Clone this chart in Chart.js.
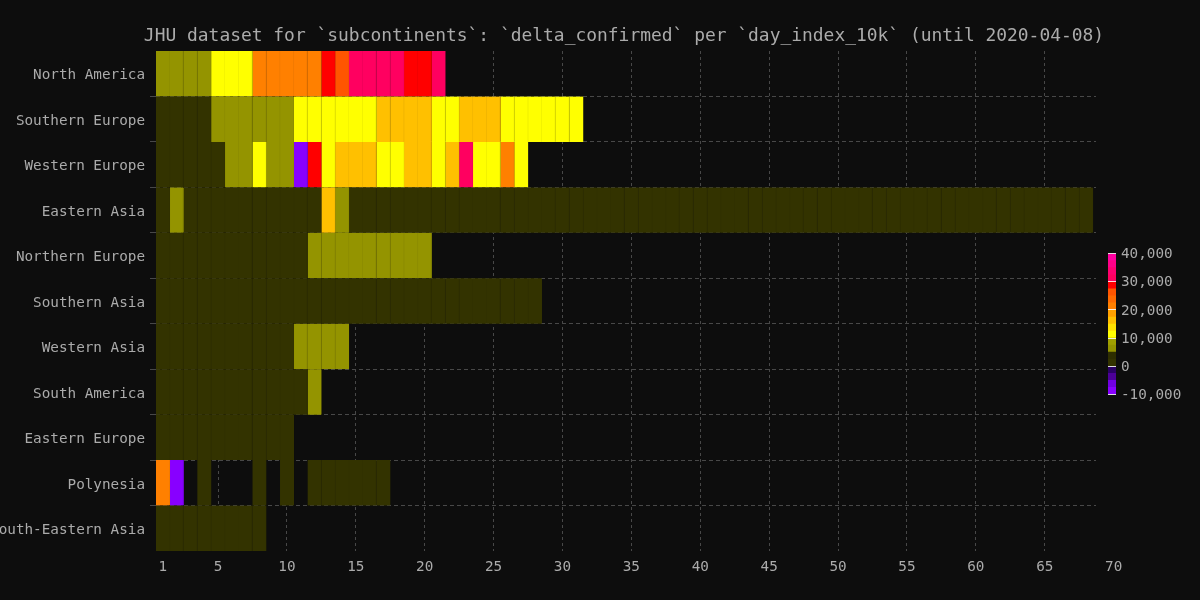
<!DOCTYPE html>
<html>
<head>
<meta charset="utf-8">
<title>JHU subcontinents</title>
<script src="https://cdn.jsdelivr.net/npm/chart.js@4"></script>
<style>
  html, body { margin: 0; padding: 0; background: #0d0d0d; overflow: hidden; }
  #wrap { position: relative; width: 1200px; height: 600px; overflow: hidden; }
  #heat { position: absolute; left: 0; top: 0; }
  #bar { position: absolute; left: 1100px; top: 240px; }
</style>
</head>
<body>
<div id="wrap">
  <!-- wider than the page so the title centres at x=624 like the reference -->
  <canvas id="heat" width="1248" height="600"></canvas>
  <canvas id="bar" width="100" height="168"></canvas>
</div>
<script>
const FONT = "'DejaVu Sans Mono', monospace";
const TEXT = "#ababab";
const GRID = "#484848";

const titleText = "JHU dataset for `subcontinents`: `delta_confirmed` per `day_index_10k` (until 2020-04-08)";
const categories = ["North America", "Southern Europe", "Western Europe", "Eastern Asia", "Northern Europe", "Southern Asia", "Western Asia", "South America", "Eastern Europe", "Polynesia", "South-Eastern Asia"];
const xTicks = [1, 5, 10, 15, 20, 25, 30, 35, 40, 45, 50, 55, 60, 65, 70];

// delta_confirmed per day (index 0 = day 1)
const northAmerica = [7000, 7000, 7000, 7000, 11000, 11000, 11000, 21000, 21000, 21000, 21000, 21000, 29000, 26000, 31000, 31000, 31000, 31000, 29000, 29000, 31000];
const southernEurope = [2000, 2000, 2000, 2000, 7000, 7000, 7000, 7000, 7000, 7000, 11000, 11000, 11000, 11000, 11000, 11000, 16000, 16000, 16000, 16000, 11000, 11000, 16000, 16000, 16000, 11000, 11000, 11000, 11000, 11000, 11000];
const westernEurope = [2000, 2000, 2000, 2000, 2000, 7000, 7000, 11000, 7000, 7000, -8000, 29000, 11000, 16000, 16000, 16000, 11000, 11000, 16000, 16000, 11000, 16000, 31000, 11000, 11000, 21000, 11000];
const easternAsia = [2000, 7000, 2000, 2000, 2000, 2000, 2000, 2000, 2000, 2000, 2000, 2000, 16000, 7000,
  2000, 2000, 2000, 2000, 2000, 2000, 2000, 2000, 2000, 2000, 2000, 2000, 2000, 2000, 2000, 2000, 2000, 2000, 2000, 2000, 2000, 2000, 2000, 2000, 2000, 2000, 2000,
  2000, 2000, 2000, 2000, 2000, 2000, 2000, 2000, 2000, 2000, 2000, 2000, 2000, 2000, 2000, 2000, 2000, 2000, 2000, 2000, 2000, 2000, 2000, 2000, 2000, 2000, 2000];
const northernEurope = [2000, 2000, 2000, 2000, 2000, 2000, 2000, 2000, 2000, 2000, 2000, 7000, 7000, 7000, 7000, 7000, 7000, 7000, 7000, 7000];
const southernAsia = [2000, 2000, 2000, 2000, 2000, 2000, 2000, 2000, 2000, 2000, 2000, 2000, 2000, 2000, 2000, 2000, 2000, 2000, 2000, 2000, 2000, 2000, 2000, 2000, 2000, 2000, 2000, 2000];
const westernAsia = [2000, 2000, 2000, 2000, 2000, 2000, 2000, 2000, 2000, 2000, 7000, 7000, 7000, 7000];
const southAmerica = [2000, 2000, 2000, 2000, 2000, 2000, 2000, 2000, 2000, 2000, 2000, 7000];
const easternEurope = [2000, 2000, 2000, 2000, 2000, 2000, 2000, 2000, 2000, 2000];
const polynesia = [21000, -9000, null, 2000, null, null, null, 2000, null, 2000, null, 2000, 2000, 2000, 2000, 2000, 2000];
const southEasternAsia = [2000, 2000, 2000, 2000, 2000, 2000, 2000, 2000];
const rows = [northAmerica, southernEurope, westernEurope, easternAsia, northernEurope, southernAsia, westernAsia, southAmerica, easternEurope, polynesia, southEasternAsia];

// colour scale: each level runs from its value up to the next one
const levels = [-10000, -7500, -5000, -2500, 0, 2500, 5000, 7500, 10000, 12500, 15000, 17500, 20000, 22500, 25000, 27500, 30000, 32500, 35000, 37500, 40000];
const levelColors = ["#8800ff", "#7000e0", "#4c0099", "#2a0066", "#333300", "#2e2e00", "#949400", "#a0a000", "#ffff00", "#ffe000", "#ffc000", "#ffa000", "#ff8000", "#ff6a00", "#ff5500", "#ff0000", "#ff0060", "#ff0070", "#ff0088", "#ff00a0"];
const barTicks = [-10000, 0, 10000, 20000, 30000, 40000];

function colorFor(v) {
  for (let i = levelColors.length - 1; i >= 0; i--) {
    if (v >= levels[i]) return levelColors[i];
  }
  return levelColors[0];
}

// cell seams are the cell colour a bit darker, barely visible on the darkest cells
function darker(hex) {
  const n = parseInt(hex.slice(1), 16);
  const f = hex === "#333300" ? 0.98 : 0.95;
  return `rgb(${Math.round((n >> 16) * f)},${Math.round(((n >> 8) & 255) * f)},${Math.round((n & 255) * f)})`;
}

const has = (r, d) => r[d] !== undefined && r[d] !== null;
const dayCount = Math.max(...rows.map((r) => r.length));
const heatSets = [];
for (let d = 0; d < dayCount; d++) {
  heatSets.push({
    label: "day " + (d + 1),
    data: rows.map((r) => (has(r, d) ? [d + 0.5, d + 1.5] : null)),
    backgroundColor: rows.map((r) => (has(r, d) ? colorFor(r[d]) : "transparent")),
    borderColor: rows.map((r) => (!has(r, d) ? "transparent" : has(r, d + 1) ? darker(colorFor(r[d])) : colorFor(r[d]))),
    borderWidth: { right: 1, left: 0, top: 0, bottom: 0 },
    borderSkipped: false,
    grouped: false,
    barPercentage: 1,
    categoryPercentage: 1
  });
}

const hideEnds = (c) => (c.index === undefined || c.index === 0 || c.index >= categories.length ? "transparent" : GRID);

new Chart(document.getElementById("heat"), {
  type: "bar",
  data: { labels: categories, datasets: heatSets },
  options: {
    indexAxis: "y",
    responsive: false,
    devicePixelRatio: 1,
    animation: false,
    plugins: {
      legend: { display: false },
      tooltip: { enabled: false },
      title: {
        display: true,
        text: titleText,
        color: TEXT,
        font: { family: FONT, size: 17.93, weight: "normal" },
        padding: { top: 26, bottom: 3.5 }
      }
    },
    scales: {
      x: {
        type: "linear",
        min: 0.5,
        max: 68.72,
        afterBuildTicks: (s) => { s.ticks = xTicks.map((v) => ({ value: v })); },
        afterFit: (s) => { s.height = 49; },
        border: { display: false, dash: [3, 3] },
        grid: {
          drawTicks: false,
          color: (c) => (c.tick && c.tick.value > 68 ? "transparent" : GRID)
        },
        ticks: {
          autoSkip: false,
          maxRotation: 0,
          padding: 8,
          color: TEXT,
          font: { family: FONT, size: 14.3 },
          callback: (v) => String(v)
        }
      },
      y: {
        afterFit: (s) => { s.width = 156; },
        border: { display: false, dash: [4, 3] },
        grid: {
          offset: true,
          tickLength: 6,
          color: hideEnds,
          tickColor: hideEnds
        },
        ticks: {
          autoSkip: false,
          padding: 5,
          labelOffset: 2,
          color: TEXT,
          font: { family: FONT, size: 14.3 }
        }
      },
      // empty axis, keeps the room for the colour bar on the right
      side: {
        type: "linear",
        position: "right",
        afterFit: (s) => { s.width = 152; },
        border: { display: false },
        grid: { display: false },
        ticks: { display: false }
      }
    }
  }
});

// colour bar, same levels as the cells
new Chart(document.getElementById("bar"), {
  type: "bar",
  data: {
    labels: ["delta_confirmed"],
    datasets: levelColors.map((c, i) => ({
      data: [[levels[i], levels[i + 1]]],
      backgroundColor: c,
      borderWidth: 0,
      grouped: false,
      barPercentage: 1,
      categoryPercentage: 1
    }))
  },
  options: {
    responsive: false,
    devicePixelRatio: 1,
    animation: false,
    layout: { padding: { left: 8, top: 12, bottom: 12, right: 0 } },
    plugins: { legend: { display: false }, tooltip: { enabled: false } },
    scales: {
      x: { display: false },
      y: {
        position: "right",
        min: -10000,
        max: 40000,
        afterBuildTicks: (s) => { s.ticks = barTicks.map((v) => ({ value: v })); },
        afterFit: (s) => { s.width = 84; },
        border: { display: false },
        grid: { z: 1, color: "rgba(255,255,255,0.85)", drawTicks: false },
        ticks: {
          padding: 5,
          labelOffset: 1,
          color: TEXT,
          font: { family: FONT, size: 14.3 },
          callback: (v) => Number(v).toLocaleString("en-US")
        }
      }
    }
  }
});
</script>
</body>
</html>
